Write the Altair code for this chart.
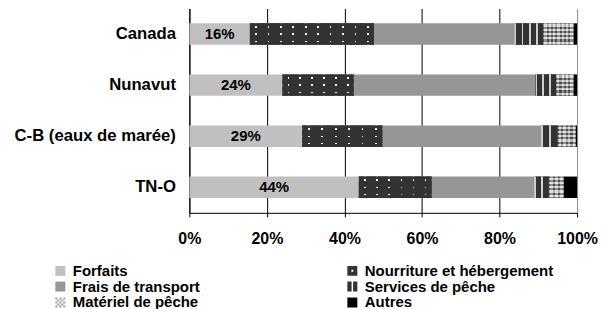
import altair as alt

regions = ["Canada", "Nunavut", "C-B (eaux de marée)", "TN-O"]
categories = ["Forfaits", "Nourriture et hébergement", "Frais de transport",
              "Services de pêche", "Matériel de pêche", "Autres"]
forfaits = [15.6, 24.0, 29.1, 43.7]
nourriture = [32.0, 18.4, 20.7, 18.8]
transport = [36.2, 46.9, 40.9, 26.4]
services = [7.5, 5.3, 4.3, 3.8]
materiel = [7.8, 4.5, 4.7, 3.9]
autres = [0.9, 0.9, 0.3, 3.4]
series = [forfaits, nourriture, transport, services, materiel, autres]
colors = ["#c0c0c0", "#333333", "#969696", "#333333", "#a0a0a0", "#000000"]
ticks = [0, 20, 40, 60, 80, 100]
# legend fills column by column: left column first, then right column
legend_order = [0, 2, 4, 1, 3, 5]

W, H = 389, 205
PX = W / 100.0  # texture density only

DARK = "#333333"
CLEAR = "rgba(51,51,51,0)"


def grad(n, frac, c_main, c_gap, axis, pos=0.5):
    stops = []
    for k in range(n):
        a = k / n
        w = 1.0 / n
        g0 = a + w * (pos - frac / 2)
        g1 = a + w * (pos + frac / 2)
        for off, col in [(a, c_main), (g0, c_main), (g0, c_gap),
                         (g1, c_gap), (g1, c_main), (a + w, c_main)]:
            stops.append({"offset": round(max(0.0, min(1.0, off)), 4), "color": col})
    return {"gradient": "linear", "x1": 0, "y1": 0,
            "x2": 1 if axis == "x" else 0, "y2": 1 if axis == "y" else 0,
            "stops": stops}


rows = []
for i, r in enumerate(regions):
    for j, c in enumerate(categories):
        v = series[j][i]
        px = v * PX
        row = {"region": r, "category": c, "value": v, "order": j}
        if j == 1:
            row["g1"] = grad(max(1, round(px / 13)), 0.13, DARK, CLEAR, "x")
            row["g2"] = grad(3, 0.18, DARK, CLEAR, "y")
        elif j == 3:
            row["g1"] = grad(max(2, round(px / 8)), 0.25, DARK, "#d0d0d0", "x", pos=0.125)
        elif j == 4:
            row["g1"] = grad(max(2, round(px / 4.5)), 0.5, "rgba(0,0,0,0.3)",
                             "rgba(255,255,255,0.45)", "x")
            row["g2"] = grad(5, 0.5, "rgba(0,0,0,0.3)", "rgba(255,255,255,0.45)", "y")
        rows.append(row)

checker = " ".join(
    f"M{-1 + 0.4 * a:.1f},{-1 + 0.4 * b:.1f}h0.4v0.4h-0.4Z"
    for a in range(5) for b in range(5) if (a + b) % 2 == 0
)
shapes = [
    "square",
    "M-1,-1H1V1H-1Z M-0.2,-0.2V0.2H0.2V-0.2Z",
    "square",
    "M-1,-1H-0.15V1H-1Z M0.15,-1H1V1H0.15Z",
    checker,
    "square",
]

leg_domain = [categories[k] for k in legend_order]
leg_colors = [colors[k] for k in legend_order]
leg_shapes = [shapes[k] for k in legend_order]

FONT = "Liberation Sans"

y_enc = alt.Y(
    "region:N", sort=regions,
    scale=alt.Scale(paddingInner=0.58, paddingOuter=0.29),
    axis=alt.Axis(title=None, ticks=False, grid=False, labelFontSize=16.75,
                  labelFontWeight="bold", labelColor="black", domainColor="black",
                  labelPadding=14, labelFont=FONT),
)
x_enc = alt.X(
    "x0:Q", scale=alt.Scale(domain=[0, 100], nice=False),
    axis=alt.Axis(title=None, values=ticks, labelExpr="datum.value + '%'",
                  grid=True,
                  gridColor={"condition": {"test": "datum.value === 100", "value": "#8c8c8c"},
                             "value": "black"},
                  gridWidth=1, tickColor="black", tickSize=4, domainColor="black",
                  labelFontSize=16, labelFontWeight="bold", labelColor="black",
                  labelPadding=14, labelFlush=False, labelFont=FONT),
)

legend = alt.Legend(
    title=None, orient="none", legendX=-137, legendY=255.5, columns=2,
    columnPadding=145, rowPadding=-1, symbolSize=100, symbolStrokeWidth=0,
    symbolOpacity=1, symbolType="square",
    labelFontSize=15, labelFontWeight="bold", labelColor="black",
    labelOffset=5, labelLimit=300, padding=0, labelFont=FONT,
)

base = alt.Chart(alt.Data(values=rows)).transform_stack(
    stack="value", groupby=["region"], sort=[alt.SortField("order")], as_=["x0", "x1"]
)

bars = base.mark_bar().encode(
    x=x_enc, x2="x1:Q", y=y_enc,
    color=alt.Color("category:N", scale=alt.Scale(domain=leg_domain, range=leg_colors),
                    legend=legend),
)

white = base.transform_filter(alt.datum.order == 1).mark_bar().encode(
    x=x_enc, x2="x1:Q", y=y_enc, fill=alt.value("white")
)
tex1 = base.transform_filter("datum.order === 1 || datum.order === 3 || datum.order === 4").mark_bar().encode(
    x=x_enc, x2="x1:Q", y=y_enc, fill=alt.Fill("g1:N", scale=None, legend=None)
)
tex2 = base.transform_filter("datum.order === 1 || datum.order === 4").mark_bar().encode(
    x=x_enc, x2="x1:Q", y=y_enc, fill=alt.Fill("g2:N", scale=None, legend=None)
)

labels = base.transform_filter(alt.datum.order == 0).transform_calculate(
    mid="(datum.x0 + datum.x1) / 2",
    lab="format(datum.value, '.0f') + '%'",
).mark_text(font=FONT, fontSize=15, fontWeight="bold", color="black").encode(
    x="mid:Q", y=y_enc, text="lab:N"
)

# invisible carrier (drawn far outside the view) that gives the legend its symbol shapes
keys = alt.Chart(alt.Data(values=rows)).transform_filter(
    "datum.region === 'Canada'"
).mark_point(filled=True, opacity=1, size=100, color="#555555").encode(
    x=alt.value(-3000), y=alt.value(-3000),
    shape=alt.Shape("category:N", scale=alt.Scale(domain=leg_domain, range=leg_shapes),
                    legend=legend),
)

chart = alt.layer(bars, white, tex1, tex2, labels, keys).properties(
    width=W, height=H,
    autosize=alt.AutoSizeParams(type="none"),
    padding={"left": 182, "top": 0, "right": 25, "bottom": 96},
).configure_view(strokeWidth=0)

chart.save("out.html", embed_options={"renderer": "svg", "actions": False})
